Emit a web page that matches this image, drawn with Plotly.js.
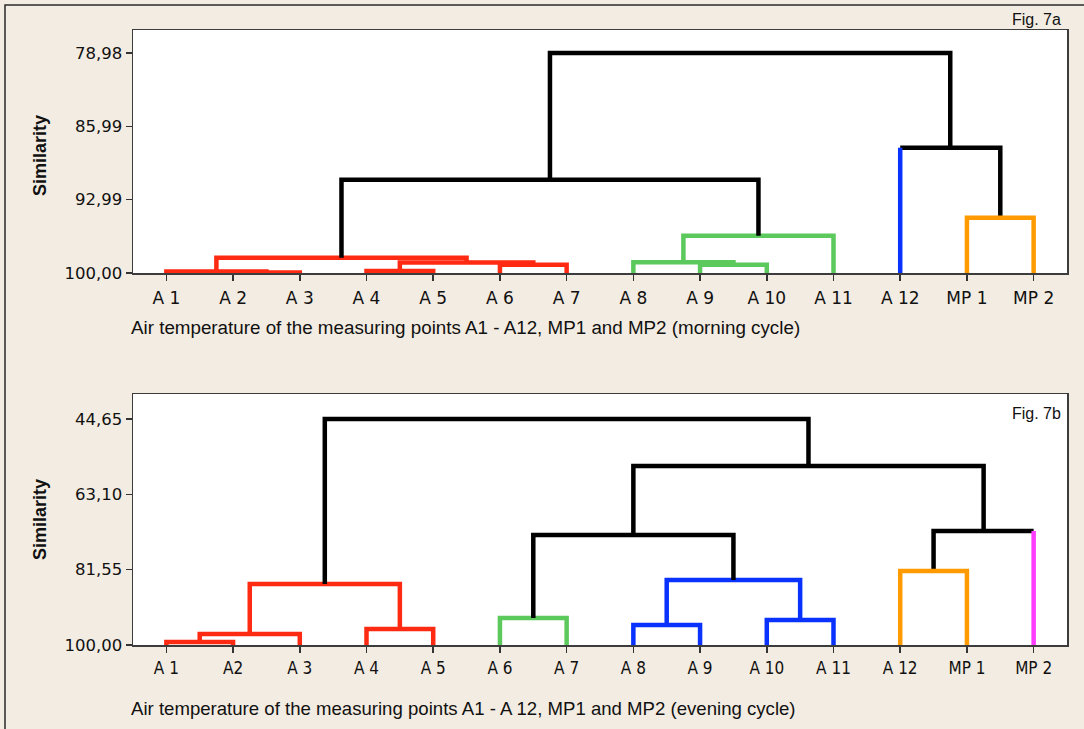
<!DOCTYPE html>
<html>
<head>
<meta charset="utf-8">
<script src="https://cdn.plot.ly/plotly-3.0.1.min.js"></script>
<style>
  html, body { margin: 0; padding: 0; background: #f3ece2; }
  #chart { width: 1084px; height: 729px; }
</style>
</head>
<body>
<div id="chart"></div>
<script>
// ---------------- DATA ----------------
// Fig. 7a (morning cycle)
const leavesTop = ['A 1','A 2','A 3','A 4','A 5','A 6','A 7','A 8','A 9','A 10','A 11','A 12','MP 1','MP 2'];
const leafGroupTop = ['red','red','red','red','red','red','red','green','green','green','green','blue','orange','orange'];
// cluster ids: leaves 0..13, merge k -> 14+k
const mergeLeftTop  = [1, 0, 3, 5, 16, 15, 8, 7, 21, 19, 12, 11, 23];
const mergeRightTop = [2, 14, 4, 6, 17, 18, 9, 20, 10, 22, 13, 24, 25];
const similarityTop = [99.96, 99.85, 99.82, 99.20, 99.00, 98.54, 99.20, 98.98, 96.44, 91.09, 94.72, 88.03, 78.98];
const mergeGroupTop = ['red','red','red','red','red','red','green','green','green','black','orange','black','black'];
const yTickValsTop = [78.98, 85.99, 92.99, 100.00];
const yTickTextTop = ['78,98', '85,99', '92,99', '100,00'];

// Fig. 7b (evening cycle)
const leavesBot = ['A 1','A2','A 3','A 4','A 5','A 6','A 7','A 8','A 9','A 10','A 11','A 12','MP 1','MP 2'];
const leafGroupBot = ['red','red','red','red','red','green','green','blue','blue','blue','blue','orange','orange','pink'];
const mergeLeftBot  = [0, 14, 3, 15, 5, 7, 9, 19, 18, 11, 23, 22, 17];
const mergeRightBot = [1, 2, 4, 16, 6, 8, 10, 20, 21, 12, 13, 24, 25];
const similarityBot = [99.27, 97.30, 96.08, 85.06, 93.39, 95.10, 93.88, 84.08, 73.06, 81.88, 72.08, 56.16, 44.65];
const mergeGroupBot = ['red','red','red','red','green','blue','blue','blue','black','orange','black','black','black'];
const yTickValsBot = [44.65, 63.10, 81.55, 100.00];
const yTickTextBot = ['44,65', '63,10', '81,55', '100,00'];

const captionTop = 'Air temperature of the measuring points A1 - A12, MP1 and MP2 (morning cycle)';
const captionBot = 'Air temperature of the measuring points A1 - A 12, MP1 and MP2 (evening cycle)';

// ---------------- STYLE ----------------
const palette = {red:'#ff2a12', green:'#5cc95c', blue:'#0a32ff', orange:'#ff9a00', pink:'#ff3cff', black:'#000000'};
const LW = 4.5;

function buildTraces(leaves, leafGroup, left, right, sim, mgroup, xa, ya) {
  const n = leaves.length;
  const pos = [], hgt = [];
  for (let i = 0; i < n; i++) { pos[i] = i + 1; hgt[i] = 100; }
  const paths = {};
  function add(color, pts) {
    if (!paths[color]) paths[color] = {x: [], y: []};
    pts.forEach(p => { paths[color].x.push(p[0]); paths[color].y.push(p[1]); });
    paths[color].x.push(null); paths[color].y.push(null);
  }
  for (let k = 0; k < sim.length; k++) {
    const a = left[k], b = right[k], h = sim[k], c = mgroup[k];
    const xa_ = pos[a], xb_ = pos[b], ha = hgt[a], hb = hgt[b];
    const lc = a < n ? leafGroup[a] : c;
    const rc = b < n ? leafGroup[b] : c;
    const pts = [];
    if (lc === c) pts.push([xa_, ha]); else add(lc, [[xa_, ha], [xa_, h]]);
    pts.push([xa_, h]); pts.push([xb_, h]);
    if (rc === c) pts.push([xb_, hb]); else add(rc, [[xb_, hb], [xb_, h]]);
    add(c, pts);
    pos[n + k] = (xa_ + xb_) / 2;
    hgt[n + k] = h;
  }
  return Object.keys(paths).map(col => ({
    type: 'scatter', mode: 'lines', x: paths[col].x, y: paths[col].y,
    xaxis: xa, yaxis: ya, connectgaps: false,
    line: {color: palette[col], width: LW},
    hoverinfo: 'skip', showlegend: false
  }));
}

const traces = [].concat(
  buildTraces(leavesTop, leafGroupTop, mergeLeftTop, mergeRightTop, similarityTop, mergeGroupTop, 'x', 'y'),
  buildTraces(leavesBot, leafGroupBot, mergeLeftBot, mergeRightBot, similarityBot, mergeGroupBot, 'x2', 'y2')
);

const L = 133, R = 17, T = 30, B = 84, W = 1084, H = 729;
const PW = W - L - R, PH = H - T - B;
const px = v => (v - L) / PW;
const py = v => (H - B - v) / PH;

const axisCommon = {
  showline: true, mirror: true, linecolor: '#3c3c3c', linewidth: 1.5,
  showgrid: false, zeroline: false, ticks: 'outside', ticklen: 6,
  tickcolor: '#333', tickwidth: 1.5, fixedrange: true
};
const yFont = {family: 'DejaVu Sans, Verdana, sans-serif', size: 16.5, color: '#111'};

const layout = {
  width: W, height: H,
  margin: {l: L, r: R, t: T, b: B, pad: 0},
  paper_bgcolor: '#f3ece2', plot_bgcolor: '#ffffff',
  showlegend: false,
  xaxis: Object.assign({}, axisCommon, {
    domain: [0, 1], anchor: 'y', range: [0.5, 14.5],
    tickvals: leavesTop.map((_, i) => i + 1), ticktext: leavesTop,
    tickfont: {family: 'DejaVu Sans, Verdana, sans-serif', size: 17, color: '#111'},
    ticklabelstandoff: 3
  }),
  yaxis: Object.assign({}, axisCommon, {
    domain: [py(273), 1], anchor: 'x', range: [100, 76.78],
    tickvals: yTickValsTop, ticktext: yTickTextTop, tickfont: yFont
  }),
  xaxis2: Object.assign({}, axisCommon, {
    domain: [0, 1], anchor: 'y2', range: [0.5, 14.5],
    tickvals: leavesBot.map((_, i) => i + 1), ticktext: leavesBot,
    tickfont: {family: 'DejaVu Sans Condensed, DejaVu Sans, sans-serif', size: 17, color: '#111'},
    ticklabelstandoff: 1
  }),
  yaxis2: Object.assign({}, axisCommon, {
    domain: [0, py(394)], anchor: 'x2', range: [100, 38.53],
    tickvals: yTickValsBot, ticktext: yTickTextBot, tickfont: yFont
  }),
  shapes: [
    {type: 'rect', xref: 'paper', yref: 'paper', x0: px(5), x1: px(1100), y0: py(760), y1: py(5),
     line: {color: '#2a2a2a', width: 1.5}, fillcolor: 'rgba(0,0,0,0)', layer: 'below'}
  ],
  annotations: [
    {text: 'Similarity', xref: 'paper', yref: 'paper', x: px(40), y: py(156), textangle: -90,
     showarrow: false, xanchor: 'center', yanchor: 'middle',
     font: {family: 'Liberation Sans, Arial, sans-serif', size: 18, color: '#111', weight: 'bold'}},
    {text: 'Similarity', xref: 'paper', yref: 'paper', x: px(40), y: py(520), textangle: -90,
     showarrow: false, xanchor: 'center', yanchor: 'middle',
     font: {family: 'Liberation Sans, Arial, sans-serif', size: 18, color: '#111', weight: 'bold'}},
    {text: captionTop, xref: 'paper', yref: 'paper', x: px(129), y: py(328),
     showarrow: false, xanchor: 'left', yanchor: 'middle',
     font: {family: 'Liberation Sans, Arial, sans-serif', size: 18.8, color: '#111'}},
    {text: captionBot, xref: 'paper', yref: 'paper', x: px(129), y: py(708),
     showarrow: false, xanchor: 'left', yanchor: 'middle',
     font: {family: 'Liberation Sans, Arial, sans-serif', size: 18.6, color: '#111'}},
    {text: 'Fig. 7a', xref: 'paper', yref: 'paper', x: px(1063), y: py(20),
     showarrow: false, xanchor: 'right', yanchor: 'middle',
     font: {family: 'Liberation Sans, Arial, sans-serif', size: 16, color: '#111'}},
    {text: 'Fig. 7b', xref: 'paper', yref: 'paper', x: px(1063), y: py(413),
     showarrow: false, xanchor: 'right', yanchor: 'middle',
     font: {family: 'Liberation Sans, Arial, sans-serif', size: 16, color: '#111'}}
  ]
};

Plotly.newPlot('chart', traces, layout, {staticPlot: true, displayModeBar: false});
</script>
</body>
</html>
